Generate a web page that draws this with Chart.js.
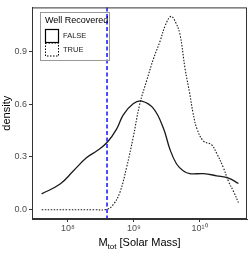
<!DOCTYPE html>
<html>
<head>
<meta charset="utf-8">
<script src="https://cdn.jsdelivr.net/npm/chart.js@4"></script>
<style>
	html, body { margin: 0; padding: 0; background: #fff; }
	.chart { position: relative; width: 250px; height: 256px; }
</style>
</head>
<body>
<div class="chart"><canvas id="chartMass"></canvas></div>
<script>
// log10 of total mass and density
const falseLogMass = [7.60, 7.88, 8.08, 8.28, 8.44, 8.60, 8.74, 8.84, 8.99, 9.12, 9.30, 9.45, 9.55, 9.65, 9.75, 9.85, 10.06, 10.26, 10.44, 10.59];
const falseDensity = [0.09, 0.146, 0.22, 0.295, 0.335, 0.385, 0.46, 0.54, 0.603, 0.618, 0.575, 0.463, 0.342, 0.26, 0.222, 0.205, 0.205, 0.193, 0.18, 0.149];

const trueLogMass = [7.60, 8.00, 8.40, 8.59, 8.69, 8.79, 8.89, 8.99, 9.09, 9.20, 9.30, 9.40, 9.48, 9.565, 9.63, 9.70, 9.78, 9.85, 9.90, 9.96, 10.06, 10.18, 10.26, 10.36, 10.44, 10.52, 10.59];
const trueDensity = [0, 0, 0, 0.002, 0.03, 0.10, 0.24, 0.41, 0.60, 0.74, 0.86, 0.96, 1.05, 1.10, 1.07, 1.0, 0.80, 0.66, 0.55, 0.46, 0.39, 0.37, 0.32, 0.24, 0.16, 0.10, 0.04];

const cutoffLogMass = 8.593;
const xTickLogs = [8, 9, 10];
const yTicks = [0, 0.3, 0.6, 0.9];
const legendTitle = 'Well Recovered';
const legendLabels = ['FALSE', 'TRUE'];

const toPoints = (logs, vals) => logs.map((l, i) => ({ x: Math.pow(10, l), y: vals[i] }));
const supDigits = { '0': '⁰', '1': '¹', '2': '²', '3': '³', '4': '⁴', '5': '⁵', '6': '⁶', '7': '⁷', '8': '⁸', '9': '⁹' };
const powerLabel = (v) => '10' + String(Math.round(Math.log10(v))).split('').map((d) => supDigits[d]).join('');

const FONT = 'Liberation Sans, Arial, sans-serif';

const decorations = {
	id: 'decorations',
	afterDatasetsDraw(chart) {
		const { ctx, chartArea: a, scales } = chart;
		// cutoff line
		const xc = scales.x.getPixelForValue(Math.pow(10, cutoffLogMass));
		ctx.save();
		ctx.strokeStyle = '#2020ff';
		ctx.lineWidth = 1.6;
		ctx.setLineDash([4, 2.5]);
		ctx.beginPath();
		ctx.moveTo(xc, a.top);
		ctx.lineTo(xc, a.bottom);
		ctx.stroke();
		ctx.restore();
	},
	afterDraw(chart) {
		const { ctx, chartArea: a } = chart;
		ctx.save();
		// panel border
		ctx.strokeStyle = '#333';
		ctx.lineWidth = 1;
		ctx.strokeRect(a.left + 0.5, a.top + 0.5, a.right - a.left - 1, a.bottom - a.top - 1);

		// legend
		ctx.strokeStyle = '#999';
		ctx.strokeRect(40.5, 12.5, 69, 48);
		ctx.fillStyle = '#000';
		ctx.textBaseline = 'middle';
		ctx.textAlign = 'left';
		ctx.font = '9px ' + FONT;
		ctx.fillText(legendTitle, 45, 21);
		ctx.strokeStyle = '#000';
		ctx.lineWidth = 1.2;
		ctx.strokeRect(45.5, 29.5, 13, 13);
		ctx.lineWidth = 1;
		ctx.setLineDash([1.5, 1.5]);
		ctx.strokeRect(45.5, 43, 13, 13);
		ctx.setLineDash([]);
		ctx.font = '7.5px ' + FONT;
		ctx.fillStyle = '#1a1a1a';
		ctx.fillText(legendLabels[0], 63, 36);
		ctx.fillText(legendLabels[1], 63, 49.5);

		// axis titles
		ctx.fillStyle = '#000';
		ctx.font = '11px ' + FONT;
		ctx.save();
		ctx.translate(7, (a.top + a.bottom) / 2);
		ctx.rotate(-Math.PI / 2);
		ctx.textAlign = 'center';
		ctx.fillText('density', 0, 0);
		ctx.restore();

		const cx = (a.left + a.right) / 2;
		const by = 246;
		ctx.textBaseline = 'alphabetic';
		const wM = ctx.measureText('M').width;
		const rest = ' [Solar Mass]';
		const wRest = ctx.measureText(rest).width;
		ctx.font = '8px ' + FONT;
		const wSub = ctx.measureText('tot').width;
		const x0 = cx - (wM + wSub + wRest) / 2;
		ctx.font = '11px ' + FONT;
		ctx.fillText('M', x0, by);
		ctx.font = '8px ' + FONT;
		ctx.fillText('tot', x0 + wM, by + 2.5);
		ctx.font = '11px ' + FONT;
		ctx.fillText(rest, x0 + wM + wSub, by);
		ctx.restore();
	},
};

const data = {
	datasets: [
		{
			label: legendLabels[0],
			data: toPoints(falseLogMass, falseDensity),
			borderColor: '#1a1a1a',
			borderWidth: 1.3,
			pointRadius: 0,
			showLine: true,
			tension: 0.4,
		},
		{
			label: legendLabels[1],
			data: toPoints(trueLogMass, trueDensity),
			borderColor: '#1a1a1a',
			borderWidth: 1.1,
			borderDash: [1.5, 1.5],
			pointRadius: 0,
			showLine: true,
			tension: 0.4,
		},
	],
};

const config = {
	type: 'scatter',
	data: data,
	options: {
		animation: false,
		responsive: true,
		maintainAspectRatio: false,
		layout: { padding: { top: 4, right: 3, left: 0, bottom: 0 } },
		plugins: {
			legend: { display: false },
			tooltip: { enabled: false },
		},
		scales: {
			x: {
				type: 'logarithmic',
				min: Math.pow(10, 7.453),
				max: Math.pow(10, 10.72),
				afterBuildTicks: (scale) => {
					scale.ticks = xTickLogs.map((l) => ({ value: Math.pow(10, l) }));
				},
				afterFit: (scale) => {
					scale.height = 37;
				},
				ticks: {
					callback: (v) => powerLabel(v),
					color: '#4d4d4d',
					font: { size: 9, family: FONT },
					padding: 1,
					maxRotation: 0,
				},
				grid: {
					drawOnChartArea: false,
					tickLength: 3,
					color: '#333',
				},
				border: { color: '#333' },
			},
			y: {
				min: -0.053,
				max: 1.151,
				afterBuildTicks: (scale) => {
					scale.ticks = yTicks.map((v) => ({ value: v }));
				},
				afterFit: (scale) => {
					scale.width = 32;
				},
				ticks: {
					callback: (v) => v.toFixed(1),
					color: '#4d4d4d',
					font: { size: 9, family: FONT },
					padding: 2,
				},
				grid: {
					drawOnChartArea: false,
					tickLength: 3,
					color: '#333',
				},
				border: { color: '#333' },
			},
		},
	},
	plugins: [decorations],
};

const ctx = document.getElementById('chartMass').getContext('2d');
const myChart = new Chart(ctx, config);
</script>
</body>
</html>
